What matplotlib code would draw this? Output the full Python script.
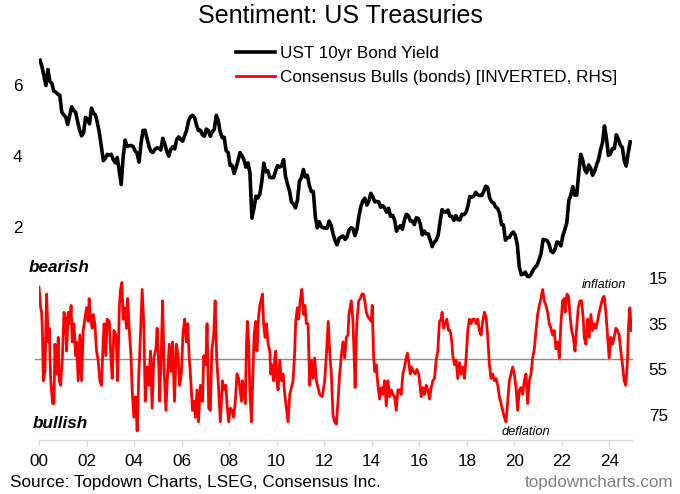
import matplotlib
matplotlib.use("Agg")
import matplotlib.pyplot as plt
import numpy as np

plt.rcParams['font.family'] = ['Liberation Sans', 'DejaVu Sans']

# UST 10yr yield, monthly, Jan 2000 .. Nov 2024
ust_10y = [
    6.70, 6.52, 6.26, 5.99, 6.44, 6.10, 6.05, 5.83, 5.80, 5.74, 5.72, 5.24,
    5.16, 5.10, 4.89, 5.14, 5.39, 5.28, 5.24, 4.97, 4.73, 4.57, 4.65, 5.09,
    5.04, 4.91, 5.35, 5.21, 5.16, 4.93, 4.65, 4.26, 3.87, 3.94, 4.05, 4.03,
    4.05, 3.90, 3.81, 3.96, 3.57, 3.20, 3.98, 4.45, 4.27, 4.29, 4.30, 4.27,
    4.15, 4.08, 3.83, 4.35, 4.72, 4.73, 4.50, 4.28, 4.13, 4.10, 4.19, 4.23,
    4.22, 4.17, 4.50, 4.34, 4.14, 4.00, 4.18, 4.26, 4.20, 4.46, 4.54, 4.47,
    4.42, 4.57, 4.72, 4.99, 5.11, 5.15, 5.09, 4.88, 4.72, 4.73, 4.60, 4.56,
    4.76, 4.72, 4.56, 4.69, 4.75, 5.15, 5.00, 4.67, 4.52, 4.53, 4.15, 4.10,
    3.74, 3.74, 3.51, 3.68, 3.88, 4.10, 4.01, 3.89, 3.69, 3.81, 3.53, 2.25,
    2.52, 2.87, 2.82, 2.93, 3.29, 3.80, 3.56, 3.59, 3.40, 3.39, 3.40, 3.59,
    3.73, 3.69, 3.73, 3.90, 3.42, 3.20, 3.01, 2.70, 2.65, 2.54, 2.76, 3.29,
    3.39, 3.62, 3.41, 3.46, 3.17, 3.00, 3.00, 2.30, 1.98, 2.15, 2.01, 1.98,
    1.97, 1.97, 2.17, 2.05, 1.80, 1.62, 1.50, 1.68, 1.72, 1.75, 1.65, 1.72,
    1.91, 1.98, 1.96, 1.76, 1.93, 2.30, 2.58, 2.74, 2.81, 2.62, 2.72, 2.95,
    2.86, 2.71, 2.72, 2.71, 2.56, 2.60, 2.54, 2.42, 2.53, 2.30, 2.33, 2.21,
    1.88, 1.98, 2.04, 1.94, 2.20, 2.36, 2.32, 2.17, 2.17, 2.07, 2.26, 2.24,
    2.09, 1.78, 1.89, 1.81, 1.81, 1.64, 1.45, 1.56, 1.63, 1.76, 2.14, 2.49,
    2.43, 2.42, 2.48, 2.30, 2.30, 2.19, 2.32, 2.21, 2.20, 2.36, 2.35, 2.40,
    2.58, 2.86, 2.84, 2.87, 2.98, 2.91, 2.89, 2.89, 3.00, 3.15, 3.12, 2.83,
    2.71, 2.68, 2.57, 2.53, 2.40, 2.07, 2.06, 1.63, 1.70, 1.71, 1.81, 1.86,
    1.76, 1.50, 0.87, 0.66, 0.67, 0.73, 0.62, 0.60, 0.68, 0.79, 0.87, 0.93,
    1.08, 1.26, 1.65, 1.64, 1.62, 1.52, 1.32, 1.28, 1.37, 1.58, 1.56, 1.47,
    1.76, 1.93, 2.13, 2.75, 2.90, 3.14, 2.90, 2.90, 3.52, 4.05, 3.89, 3.62,
    3.53, 3.75, 3.66, 3.46, 3.57, 3.75, 3.90, 4.17, 4.38, 4.85, 4.50, 4.02,
    4.06, 4.21, 4.21, 4.60, 4.48, 4.31, 4.25, 3.87, 3.72, 4.10, 4.40,
]

# Consensus bulls (bonds): turning points, years since 2000 / % bulls
bulls_t = [
    0.00, 0.07, 0.11, 0.15, 0.18, 0.25, 0.32, 0.39, 0.43, 0.49, 0.57, 0.63,
    0.67, 0.74, 0.81, 0.85, 0.91, 0.98, 1.05, 1.12, 1.16, 1.23, 1.30, 1.35,
    1.40, 1.47, 1.54, 1.58, 1.65, 1.72, 1.79, 1.86, 1.93, 2.00, 2.07, 2.11,
    2.17, 2.24, 2.28, 2.35, 2.42, 2.49, 2.56, 2.63, 2.70, 2.74, 2.81, 2.87,
    2.96, 3.01, 3.08, 3.15, 3.24, 3.31, 3.38, 3.43, 3.49, 3.54, 3.61, 3.68,
    3.73, 3.80, 3.87, 3.92, 3.99, 4.06, 4.13, 4.20, 4.27, 4.34, 4.41, 4.47,
    4.55, 4.62, 4.69, 4.76, 4.83, 4.92, 4.97, 5.03, 5.08, 5.14, 5.20, 5.27,
    5.34, 5.41, 5.48, 5.55, 5.62, 5.70, 5.78, 5.85, 5.92, 5.99, 6.06, 6.13,
    6.20, 6.26, 6.32, 6.37, 6.46, 6.53, 6.58, 6.65, 6.71, 6.79, 6.88, 6.93,
    7.02, 7.07, 7.14, 7.21, 7.27, 7.35, 7.41, 7.48, 7.55, 7.63, 7.72, 7.79,
    7.86, 7.91, 7.98, 8.05, 8.12, 8.19, 8.26, 8.33, 8.40, 8.52, 8.56, 8.61,
    8.68, 8.73, 8.77, 8.82, 8.87, 8.94, 9.01, 9.05, 9.12, 9.17, 9.23, 9.29,
    9.36, 9.40, 9.45, 9.51, 9.57, 9.64, 9.71, 9.75, 9.80, 9.87, 9.92, 9.96,
    10.01, 10.06, 10.13, 10.20, 10.27, 10.34, 10.41, 10.48, 10.55, 10.62, 10.69, 10.76,
    10.80, 10.87, 10.92, 10.99, 11.06, 11.13, 11.19, 11.25, 11.32, 11.39, 11.46, 11.53,
    11.60, 11.67, 11.74, 11.81, 11.92, 12.02, 12.09, 12.17, 12.23, 12.30, 12.37, 12.44,
    12.51, 12.58, 12.65, 12.72, 12.79, 12.86, 12.93, 13.00, 13.04, 13.09, 13.14, 13.21,
    13.26, 13.30, 13.37, 13.45, 13.52, 13.59, 13.65, 13.71, 13.77, 13.84, 13.91, 13.98,
    14.02, 14.08, 14.13, 14.19, 14.26, 14.33, 14.40, 14.47, 14.54, 14.61, 14.68, 14.75,
    14.82, 14.89, 14.96, 15.03, 15.10, 15.17, 15.24, 15.31, 15.38, 15.45, 15.50, 15.56,
    15.62, 15.67, 15.76, 15.83, 15.90, 15.98, 16.08, 16.15, 16.22, 16.29, 16.36, 16.43,
    16.50, 16.57, 16.64, 16.71, 16.78, 16.85, 16.92, 16.96, 17.02, 17.09, 17.16, 17.23,
    17.30, 17.37, 17.41, 17.48, 17.55, 17.62, 17.69, 17.76, 17.83, 17.90, 17.97, 18.04,
    18.11, 18.18, 18.25, 18.32, 18.39, 18.46, 18.53, 18.60, 18.67, 18.74, 18.81, 18.88,
    18.95, 19.02, 19.09, 19.16, 19.23, 19.30, 19.37, 19.44, 19.51, 19.58, 19.65, 19.72,
    19.79, 19.86, 19.93, 20.00, 20.07, 20.14, 20.21, 20.28, 20.35, 20.42, 20.49, 20.56,
    20.63, 20.70, 20.77, 20.84, 20.91, 20.98, 21.05, 21.12, 21.19, 21.26, 21.33, 21.40,
    21.47, 21.54, 21.61, 21.68, 21.75, 21.82, 21.89, 21.96, 22.03, 22.10, 22.14, 22.21,
    22.28, 22.34, 22.41, 22.48, 22.55, 22.62, 22.69, 22.76, 22.83, 22.90, 22.94, 23.01,
    23.08, 23.15, 23.22, 23.29, 23.36, 23.43, 23.50, 23.57, 23.64, 23.71, 23.78, 23.85,
    23.92, 23.99, 24.06, 24.13, 24.20, 24.27, 24.34, 24.41, 24.48, 24.55, 24.62, 24.69,
    24.76, 24.80, 24.86, 24.92,
]
bulls_pct = [
    19, 28, 30, 40, 60, 56, 22, 43, 37, 59, 70, 70,
    44, 57, 41, 60, 62, 51, 30, 33, 47, 30, 35, 27,
    43, 35, 49, 43, 60, 40, 60, 38, 33, 28, 34, 24,
    33, 37, 31, 35, 47, 51, 60, 62, 43, 35, 49, 33,
    34, 47, 59, 38, 40, 60, 28, 20, 17, 33, 28, 37,
    24, 38, 49, 64, 76, 67, 82, 57, 40, 20, 35, 69,
    54, 62, 47, 72, 50, 46, 37, 51, 69, 49, 25, 57,
    73, 57, 44, 56, 43, 69, 44, 49, 62, 57, 39, 33,
    43, 35, 50, 57, 73, 69, 76, 64, 78, 62, 69, 49,
    53, 35, 72, 73, 47, 40, 25, 51, 62, 78, 60, 64,
    62, 70, 78, 72, 73, 76, 69, 57, 59, 69, 60, 64,
    70, 43, 34, 43, 64, 78, 54, 40, 34, 47, 33, 27,
    24, 22, 35, 41, 35, 44, 47, 57, 53, 60, 50, 47,
    60, 64, 51, 60, 57, 66, 72, 78, 66, 63, 60, 47,
    34, 28, 33, 25, 20, 31, 27, 35, 35, 62, 51, 59,
    50, 60, 63, 66, 67, 60, 49, 34, 47, 57, 75, 78,
    79, 69, 57, 49, 43, 50, 41, 40, 31, 28, 25, 34,
    49, 63, 35, 25, 24, 22, 22, 25, 30, 32, 33, 34,
    27, 50, 56, 53, 62, 68, 63, 66, 60, 71, 60, 67,
    64, 66, 67, 73, 64, 64, 66, 57, 54, 50, 48, 52,
    57, 54, 56, 57, 55, 57, 67, 63, 66, 62, 64, 68,
    63, 60, 59, 51, 47, 34, 33, 30, 37, 35, 33, 38,
    38, 43, 49, 53, 51, 59, 52, 57, 54, 59, 50, 38,
    33, 35, 33, 33, 35, 33, 38, 40, 34, 30, 32, 41,
    53, 59, 57, 60, 59, 62, 67, 70, 73, 76, 78, 69,
    60, 57, 54, 57, 63, 73, 64, 63, 66, 60, 57, 70,
    60, 57, 50, 46, 38, 31, 27, 24, 20, 25, 27, 30,
    35, 37, 40, 38, 46, 43, 50, 35, 25, 24, 30, 22,
    23, 31, 38, 41, 47, 37, 28, 25, 25, 33, 41, 44,
    33, 41, 31, 38, 35, 37, 34, 30, 27, 24, 23, 30,
    40, 50, 41, 44, 41, 37, 38, 40, 47, 53, 60, 62,
    51, 37, 28, 38,
]

ust_t = (np.arange(len(ust_10y)) + 0.5) / 12.0
bulls_mid = 50.6
year_ticks = np.arange(0, 25, 2)
year_labels = ['%02d' % y for y in year_ticks]

fig = plt.figure(figsize=(6.8, 4.94), dpi=100)
ax = fig.add_axes([39 / 680, 1 - 440 / 494, (632 - 39) / 680, 395 / 494])
ax2 = ax.twinx()

ln1, = ax.plot(ust_t, ust_10y, color='black', linewidth=2.6, solid_joinstyle='round')
ax2.axhline(bulls_mid, color='#8c8c8c', linewidth=1.0, xmin=-0.006, clip_on=False)
ln2, = ax2.plot(bulls_t, bulls_pct, color='#ff0000', linewidth=2.0, solid_joinstyle='round')

ax.set_xlim(0, 24.95)
ax.set_ylim(-4.0, 7.13)
ax2.set_ylim(85.95, -87.05)

ax.set_yticks([2, 4, 6])
ax.set_yticklabels(['2', '4', '6'])
ax2.set_yticks([15, 35, 55, 75])
ax.tick_params(axis='y', length=0, pad=12, labelsize=12.3)
ax2.tick_params(axis='y', length=0, pad=12, labelsize=12.3)
ax.set_xticks(year_ticks)
ax.set_xticklabels(year_labels)
ax.tick_params(axis='x', length=4, width=1, color='#d9d9d9', pad=6, labelsize=12.3)

for a in (ax, ax2):
    for s in ('top', 'left', 'right'):
        a.spines[s].set_visible(False)
    a.spines['bottom'].set_color('#d9d9d9')
    a.spines['bottom'].set_linewidth(1)
ax2.spines['bottom'].set_visible(False)

fig.legend([ln1, ln2],
           ['UST 10yr Bond Yield', 'Consensus Bulls (bonds) [INVERTED, RHS]'],
           loc='upper left', bbox_to_anchor=(236 / 680, 1 - 46 / 494),
           frameon=False, fontsize=12.3, handlelength=2.3, handletextpad=0.3,
           labelspacing=0.5, borderpad=0, borderaxespad=0)

fig.text(0.5, 1 - 16 / 494, 'Sentiment: US Treasuries', ha='center', va='center', fontsize=18)
fig.text(29 / 680, 1 - 268 / 494, 'bearish', ha='left', va='center', fontsize=12.3,
         fontweight='bold', fontstyle='italic')
fig.text(33 / 680, 1 - 423 / 494, 'bullish', ha='left', va='center', fontsize=12.3,
         fontweight='bold', fontstyle='italic')
fig.text(604 / 680, 1 - 285 / 494, 'inflation', ha='center', va='center', fontsize=9.3,
         fontstyle='italic')
fig.text(526 / 680, 1 - 432 / 494, 'deflation', ha='center', va='center', fontsize=9.3,
         fontstyle='italic')
fig.text(10 / 680, 1 - 482 / 494, 'Source: Topdown Charts, LSEG, Consensus Inc.',
         ha='left', va='center', fontsize=12.3)
fig.text(673 / 680, 1 - 482 / 494, 'topdowncharts.com', ha='right', va='center',
         fontsize=12.3, color='#808080')

fig.savefig('out.png', dpi=100)
